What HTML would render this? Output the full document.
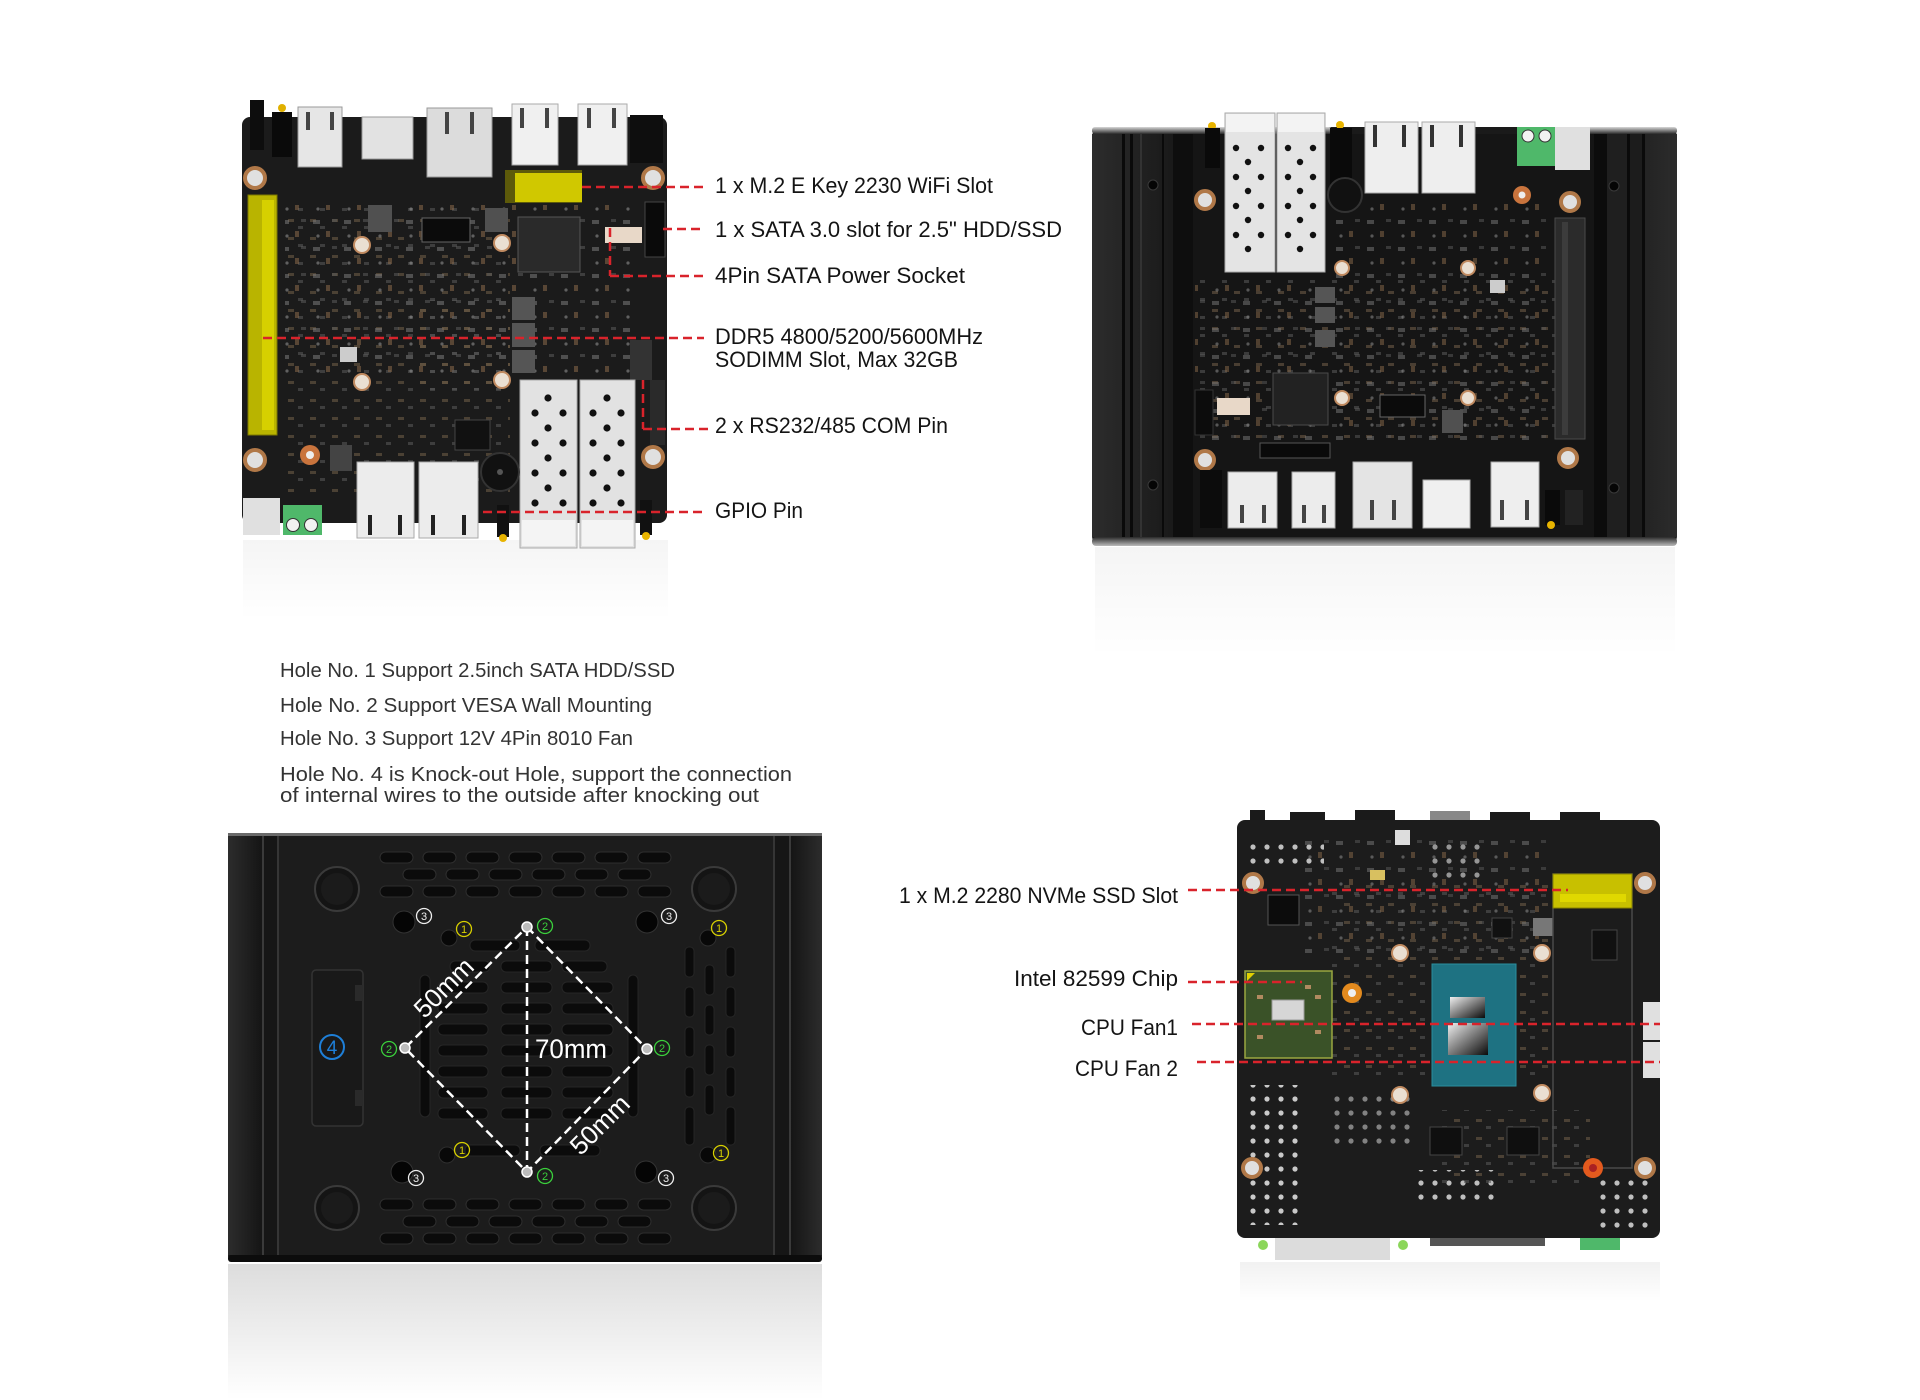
<!DOCTYPE html>
<html><head><meta charset="utf-8"><style>
html,body{margin:0;padding:0;background:#fff;}
body{width:1920px;height:1400px;overflow:hidden;}
svg{display:block;}
text{font-family:"Liberation Sans",sans-serif;}
</style></head><body>
<svg width="1920" height="1400" viewBox="0 0 1920 1400" xmlns="http://www.w3.org/2000/svg">
<defs>
<linearGradient id="refl" x1="0" y1="0" x2="0" y2="1"><stop offset="0" stop-color="#000" stop-opacity="0.18"/><stop offset="1" stop-color="#000" stop-opacity="0"/></linearGradient>
<linearGradient id="die" x1="0" y1="0" x2="1" y2="1"><stop offset="0" stop-color="#f0f0f0"/><stop offset="0.45" stop-color="#888"/><stop offset="1" stop-color="#0a0a0a"/></linearGradient>
<linearGradient id="bevel" x1="0" y1="0" x2="0" y2="1"><stop offset="0" stop-color="#d8d8d8"/><stop offset="1" stop-color="#2a2a2a"/></linearGradient>
<linearGradient id="bevelB" x1="0" y1="0" x2="0" y2="1"><stop offset="0" stop-color="#2a2a2a"/><stop offset="1" stop-color="#bbbbbb"/></linearGradient>
<linearGradient id="sideL" x1="0" y1="0" x2="1" y2="0"><stop offset="0" stop-color="#2c2c2c"/><stop offset="1" stop-color="#151515"/></linearGradient>
<linearGradient id="sideR" x1="0" y1="0" x2="1" y2="0"><stop offset="0" stop-color="#151515"/><stop offset="1" stop-color="#2c2c2c"/></linearGradient>
<pattern id="dA" patternUnits="userSpaceOnUse" x="520" y="392" width="57" height="30"><circle cx="28" cy="6" r="3.6" fill="#111"/><circle cx="15" cy="21" r="3.6" fill="#111"/><circle cx="43" cy="21" r="3.6" fill="#111"/></pattern>
<pattern id="dB" patternUnits="userSpaceOnUse" x="580" y="392" width="55" height="30"><circle cx="27" cy="6" r="3.6" fill="#111"/><circle cx="13" cy="21" r="3.6" fill="#111"/><circle cx="41" cy="21" r="3.6" fill="#111"/></pattern>
<pattern id="dC" patternUnits="userSpaceOnUse" x="1225" y="141" width="50" height="29"><circle cx="11" cy="7" r="3.2" fill="#111"/><circle cx="36" cy="7" r="3.2" fill="#111"/><circle cx="23" cy="21" r="3.2" fill="#111"/></pattern>
<pattern id="dD" patternUnits="userSpaceOnUse" x="1277" y="141" width="48" height="29"><circle cx="11" cy="7" r="3.2" fill="#111"/><circle cx="36" cy="7" r="3.2" fill="#111"/><circle cx="23" cy="21" r="3.2" fill="#111"/></pattern>
<pattern id="wd" patternUnits="userSpaceOnUse" x="0" y="0" width="14" height="14"><circle cx="7" cy="7" r="2.6" fill="#e8e8e8"/></pattern>
<pattern id="comp" patternUnits="userSpaceOnUse" x="0" y="0" width="22" height="18"><rect x="2" y="3" width="6" height="3" fill="#6b5a45"/><rect x="12" y="10" width="5" height="3" fill="#555"/></pattern>
<pattern id="comp2" patternUnits="userSpaceOnUse" x="0" y="0" width="31" height="27"><rect x="3" y="4" width="7" height="4" fill="#7a7a7a"/><rect x="16" y="15" width="4" height="6" fill="#8a6a4a"/><rect x="22" y="3" width="5" height="3" fill="#5a5a5a"/><circle cx="8" cy="20" r="1.6" fill="#999"/></pattern>
</defs>

<rect width="1920" height="1400" fill="#fff"/>

<!-- ================= TOP-LEFT BOARD ================= -->
<rect x="243" y="540" width="425" height="80" fill="url(#refl)" opacity="0.22"/>
<rect x="242" y="117" width="425" height="406" rx="8" fill="#1b1b1b"/>
<rect x="285" y="205" width="225" height="290" fill="url(#comp)" opacity="0.6"/>
<rect x="285" y="205" width="350" height="170" fill="url(#comp2)" opacity="0.55"/>
<rect x="420" y="300" width="90" height="90" fill="url(#comp)" opacity="0.6"/>
<!-- top ports -->
<rect x="250" y="100" width="14" height="50" fill="#0d0d0d"/>
<circle cx="282" cy="108" r="4" fill="#e0b000"/>
<rect x="272" y="112" width="20" height="45" fill="#0a0a0a"/>
<rect x="298" y="107" width="44" height="60" fill="#e6e6e6" stroke="#999"/>
<rect x="362" y="117" width="51" height="42" fill="#e2e2e2" stroke="#999"/>
<rect x="427" y="108" width="65" height="69" fill="#dcdcdc" stroke="#999"/>
<rect x="512" y="104" width="46" height="61" fill="#f0f0f0" stroke="#aaa"/>
<rect x="578" y="104" width="49" height="61" fill="#f0f0f0" stroke="#aaa"/>
<g fill="#444"><rect x="306" y="112" width="4" height="18"/><rect x="330" y="112" width="4" height="18"/><rect x="445" y="112" width="4" height="22"/><rect x="470" y="112" width="4" height="22"/><rect x="520" y="108" width="4" height="20"/><rect x="545" y="108" width="4" height="20"/><rect x="587" y="108" width="4" height="20"/><rect x="612" y="108" width="4" height="20"/></g>
<rect x="630" y="115" width="33" height="48" fill="#0e0e0e"/>
<!-- yellow slots -->
<rect x="248" y="195" width="29" height="240" fill="#b9b400" stroke="#7d7900"/>
<rect x="262" y="200" width="12" height="230" fill="#d6d000"/>
<rect x="505" y="170" width="77" height="33" fill="#8a8600" opacity="0.6"/>
<rect x="515" y="173" width="67" height="29" fill="#d0c800"/>
<!-- chips -->
<rect x="518" y="217" width="62" height="55" fill="#2a2a2a" stroke="#555"/>
<rect x="422" y="218" width="48" height="24" fill="#0b0b0b" stroke="#666"/>
<rect x="368" y="205" width="24" height="27" fill="#505050"/>
<rect x="485" y="208" width="23" height="24" fill="#505050"/>
<rect x="512" y="297" width="23" height="23" fill="#555"/>
<rect x="512" y="323" width="23" height="24" fill="#555"/>
<rect x="512" y="350" width="23" height="23" fill="#555"/>
<rect x="645" y="202" width="20" height="55" fill="#0a0a0a" stroke="#444"/>
<rect x="605" y="227" width="37" height="16" fill="#e8d8c8"/>
<rect x="340" y="347" width="17" height="15" fill="#ccc"/>
<rect x="630" y="340" width="22" height="40" fill="#333"/>
<rect x="650" y="380" width="15" height="65" fill="#2a2a2a"/>
<rect x="455" y="420" width="35" height="30" fill="#111" stroke="#444"/>
<!-- holes -->
<g fill="#e0e0e0" stroke="#b07848" stroke-width="4">
<circle cx="255" cy="178" r="10"/><circle cx="653" cy="178" r="10"/><circle cx="255" cy="460" r="10"/><circle cx="653" cy="457" r="10"/>
</g>
<g fill="#eadfd2" stroke="#c08a60" stroke-width="2">
<circle cx="362" cy="245" r="8"/><circle cx="502" cy="243" r="8"/><circle cx="362" cy="382" r="8"/><circle cx="502" cy="380" r="8"/>
</g>
<circle cx="310" cy="455" r="10" fill="#c9743d"/><circle cx="310" cy="455" r="4" fill="#eee"/>
<rect x="330" y="445" width="22" height="26" fill="#444"/>
<!-- bottom ports -->
<rect x="357" y="462" width="57" height="76" fill="#ececec" stroke="#aaa"/>
<rect x="419" y="462" width="59" height="76" fill="#ececec" stroke="#aaa"/>
<g fill="#222"><rect x="368" y="515" width="4" height="20"/><rect x="398" y="515" width="4" height="20"/><rect x="431" y="515" width="4" height="20"/><rect x="462" y="515" width="4" height="20"/></g>
<rect x="520" y="380" width="57" height="168" fill="#e2e2e2" stroke="#aaa"/>
<rect x="580" y="380" width="55" height="168" fill="#e2e2e2" stroke="#aaa"/>
<rect x="520" y="392" width="57" height="122" fill="url(#dA)"/>
<rect x="580" y="392" width="55" height="122" fill="url(#dB)"/>
<rect x="522" y="520" width="53" height="26" fill="#f4f4f4"/>
<rect x="582" y="520" width="51" height="26" fill="#f4f4f4"/>
<circle cx="500" cy="472" r="19" fill="#111" stroke="#333" stroke-width="2"/>
<circle cx="500" cy="472" r="3" fill="#555"/>
<rect x="243" y="498" width="37" height="37" fill="#e0e0e0"/>
<rect x="283" y="505" width="39" height="30" fill="#4fb86a"/>
<circle cx="293" cy="525" r="6.5" fill="#f2f2f2" stroke="#333"/><circle cx="311" cy="525" r="6.5" fill="#f2f2f2" stroke="#333"/>
<rect x="497" y="505" width="12" height="32" fill="#111"/>
<circle cx="503" cy="538" r="4" fill="#e8b400"/>
<rect x="640" y="500" width="12" height="35" fill="#111"/>
<circle cx="646" cy="536" r="4" fill="#e8b400"/>

<!-- TL red dashed connectors -->
<g stroke="#d9232b" stroke-width="2.5" stroke-dasharray="9 5" fill="none">
<line x1="582" y1="187" x2="704" y2="187"/>
<line x1="663" y1="229" x2="704" y2="229"/>
<line x1="610" y1="228" x2="610" y2="276"/>
<line x1="610" y1="276" x2="704" y2="276"/>
<line x1="263" y1="338" x2="704" y2="338"/>
<line x1="643" y1="380" x2="643" y2="429"/>
<line x1="643" y1="429" x2="710" y2="429"/>
<line x1="483" y1="512" x2="704" y2="512"/>
</g>
<g fill="#141414" font-size="22">
<text x="715" y="193" textLength="278" lengthAdjust="spacingAndGlyphs">1 x M.2 E Key 2230 WiFi Slot</text>
<text x="715" y="237" textLength="347" lengthAdjust="spacingAndGlyphs">1 x SATA 3.0 slot for 2.5" HDD/SSD</text>
<text x="715" y="283" textLength="250" lengthAdjust="spacingAndGlyphs">4Pin SATA Power Socket</text>
<text x="715" y="344" textLength="268" lengthAdjust="spacingAndGlyphs">DDR5 4800/5200/5600MHz</text>
<text x="715" y="367" textLength="243" lengthAdjust="spacingAndGlyphs">SODIMM Slot, Max 32GB</text>
<text x="715" y="433" textLength="233" lengthAdjust="spacingAndGlyphs">2 x RS232/485 COM Pin</text>
<text x="715" y="518" textLength="88" lengthAdjust="spacingAndGlyphs">GPIO Pin</text>
</g>

<!-- ================= TOP-RIGHT CASE ================= -->
<rect x="1095" y="547" width="580" height="110" fill="url(#refl)" opacity="0.22"/>
<rect x="1092" y="127" width="585" height="419" rx="10" fill="#1a1a1a"/>
<rect x="1092" y="127" width="240" height="7" rx="3" fill="url(#bevel)"/>
<rect x="1540" y="127" width="137" height="7" rx="3" fill="url(#bevel)"/>
<rect x="1092" y="537" width="585" height="9" rx="4" fill="url(#bevelB)"/>
<rect x="1092" y="134" width="101" height="403" fill="url(#sideL)"/>
<rect x="1122" y="134" width="3" height="403" fill="#0a0a0a"/>
<rect x="1130" y="134" width="3" height="403" fill="#0a0a0a"/>
<rect x="1140" y="134" width="2" height="403" fill="#333"/>
<rect x="1162" y="134" width="2" height="403" fill="#0a0a0a"/>
<rect x="1173" y="134" width="20" height="403" fill="#0e0e0e"/>
<rect x="1594" y="134" width="83" height="403" fill="url(#sideR)"/>
<rect x="1594" y="134" width="13" height="403" fill="#0c0c0c"/>
<rect x="1607" y="134" width="20" height="403" fill="#1f1f1f"/>
<rect x="1627" y="134" width="3" height="403" fill="#0a0a0a"/>
<rect x="1630" y="134" width="12" height="403" fill="#1c1c1c"/>
<rect x="1642" y="134" width="3" height="403" fill="#0a0a0a"/>
<g fill="#050505" stroke="#3a3a3a"><circle cx="1153" cy="185" r="5"/><circle cx="1153" cy="485" r="5"/><circle cx="1614" cy="186" r="5"/><circle cx="1614" cy="488" r="5"/></g>
<rect x="1193" y="134" width="401" height="403" fill="#151515"/>
<rect x="1200" y="280" width="380" height="160" fill="url(#comp)" opacity="0.6"/>
<rect x="1330" y="200" width="220" height="240" fill="url(#comp2)" opacity="0.5"/>
<rect x="1195" y="280" width="120" height="160" fill="url(#comp2)" opacity="0.5"/>
<!-- top ports -->
<circle cx="1212" cy="126" r="4" fill="#e8b400"/>
<circle cx="1340" cy="125" r="4" fill="#e8b400"/>
<rect x="1205" y="128" width="15" height="40" fill="#0a0a0a"/>
<rect x="1330" y="128" width="22" height="60" fill="#0a0a0a"/>
<rect x="1225" y="113" width="50" height="159" fill="#e4e4e4" stroke="#aaa"/>
<rect x="1277" y="113" width="48" height="159" fill="#e4e4e4" stroke="#aaa"/>
<rect x="1226" y="114" width="48" height="18" fill="#f3f3f3"/>
<rect x="1278" y="114" width="46" height="18" fill="#f3f3f3"/>
<rect x="1225" y="141" width="50" height="116" fill="url(#dC)"/>
<rect x="1277" y="141" width="48" height="116" fill="url(#dD)"/>
<rect x="1365" y="122" width="53" height="71" fill="#eeeeee" stroke="#aaa"/>
<rect x="1422" y="122" width="53" height="71" fill="#eeeeee" stroke="#aaa"/>
<g fill="#333"><rect x="1373" y="125" width="4" height="22"/><rect x="1402" y="125" width="4" height="22"/><rect x="1430" y="125" width="4" height="22"/><rect x="1459" y="125" width="4" height="22"/></g>
<circle cx="1345" cy="195" r="17" fill="#111" stroke="#333" stroke-width="2"/>
<rect x="1517" y="127" width="38" height="39" fill="#4fb86a"/>
<circle cx="1528" cy="136" r="6" fill="#f2f2f2" stroke="#333"/><circle cx="1545" cy="136" r="6" fill="#f2f2f2" stroke="#333"/>
<rect x="1555" y="127" width="35" height="43" fill="#e0e0e0"/>
<!-- sodimm -->
<rect x="1555" y="218" width="30" height="221" fill="#2b2b2b" stroke="#4a4a4a"/>
<rect x="1562" y="222" width="6" height="213" fill="#3c3c3c"/>
<!-- chips -->
<rect x="1273" y="373" width="55" height="52" fill="#222" stroke="#4a4a4a"/>
<rect x="1315" y="287" width="20" height="16" fill="#555"/>
<rect x="1315" y="307" width="20" height="16" fill="#555"/>
<rect x="1315" y="330" width="20" height="17" fill="#555"/>
<rect x="1442" y="410" width="21" height="23" fill="#505050"/>
<rect x="1380" y="395" width="45" height="22" fill="#0b0b0b" stroke="#666"/>
<rect x="1217" y="398" width="33" height="17" fill="#e8d8c8"/>
<rect x="1260" y="443" width="70" height="15" fill="#0a0a0a" stroke="#555"/>
<rect x="1195" y="390" width="18" height="45" fill="#0c0c0c" stroke="#333"/>
<rect x="1490" y="280" width="15" height="13" fill="#ccc"/>
<g fill="#e0e0e0" stroke="#b07848" stroke-width="4"><circle cx="1205" cy="200" r="9"/><circle cx="1205" cy="460" r="9"/><circle cx="1570" cy="202" r="9"/><circle cx="1568" cy="458" r="9"/></g>
<g fill="#eadfd2" stroke="#c08a60" stroke-width="2"><circle cx="1342" cy="268" r="7"/><circle cx="1468" cy="268" r="7"/><circle cx="1342" cy="398" r="7"/><circle cx="1468" cy="398" r="7"/></g>
<circle cx="1522" cy="195" r="9" fill="#c9743d"/><circle cx="1522" cy="195" r="3.5" fill="#eee"/>
<!-- bottom ports -->
<rect x="1200" y="470" width="22" height="58" fill="#0c0c0c"/>
<rect x="1228" y="472" width="49" height="56" fill="#ececec" stroke="#aaa"/>
<rect x="1292" y="472" width="43" height="56" fill="#ececec" stroke="#aaa"/>
<rect x="1353" y="462" width="59" height="66" fill="#e4e4e4" stroke="#aaa"/>
<rect x="1423" y="480" width="47" height="48" fill="#f0f0f0" stroke="#aaa"/>
<rect x="1491" y="462" width="48" height="65" fill="#eeeeee" stroke="#aaa"/>
<g fill="#444"><rect x="1240" y="505" width="4" height="18"/><rect x="1262" y="505" width="4" height="18"/><rect x="1302" y="505" width="4" height="18"/><rect x="1322" y="505" width="4" height="18"/><rect x="1370" y="500" width="4" height="20"/><rect x="1392" y="500" width="4" height="20"/><rect x="1500" y="500" width="4" height="20"/><rect x="1525" y="500" width="4" height="20"/></g>
<rect x="1545" y="490" width="15" height="35" fill="#0a0a0a"/>
<rect x="1565" y="490" width="18" height="35" fill="#222"/>
<circle cx="1551" cy="525" r="4" fill="#e8b400"/>

<!-- ================= HOLE TEXT ================= -->
<g fill="#333" font-size="20">
<text x="280" y="677" textLength="395" lengthAdjust="spacingAndGlyphs">Hole No. 1 Support 2.5inch SATA HDD/SSD</text>
<text x="280" y="712" textLength="372" lengthAdjust="spacingAndGlyphs">Hole No. 2 Support VESA Wall Mounting</text>
<text x="280" y="745" textLength="353" lengthAdjust="spacingAndGlyphs">Hole No. 3 Support 12V 4Pin 8010 Fan</text>
<text x="280" y="781" textLength="512" lengthAdjust="spacingAndGlyphs">Hole No. 4 is Knock-out Hole, support the connection</text>
<text x="280" y="802" textLength="479" lengthAdjust="spacingAndGlyphs">of internal wires to the outside after knocking out</text>
</g>

<!-- ================= BOTTOM-LEFT CASE ================= -->
<rect x="228" y="1264" width="594" height="136" fill="url(#refl)" opacity="0.75"/>
<rect x="228" y="833" width="594" height="429" rx="6" fill="#1c1c1c"/>
<rect x="228" y="833" width="594" height="3" fill="#6a6a6a"/>
<rect x="228" y="1255" width="594" height="7" rx="3" fill="#0c0c0c"/>
<rect x="228" y="836" width="34" height="419" fill="url(#sideL)"/>
<rect x="262" y="836" width="2" height="419" fill="#3a3a3a"/>
<rect x="264" y="836" width="13" height="419" fill="#161616"/>
<rect x="277" y="836" width="2" height="419" fill="#353535"/>
<rect x="773" y="836" width="2" height="419" fill="#353535"/>
<rect x="775" y="836" width="14" height="419" fill="#161616"/>
<rect x="789" y="836" width="2" height="419" fill="#3a3a3a"/>
<rect x="791" y="836" width="31" height="419" fill="url(#sideR)"/>
<!-- vents top/bottom -->
<g fill="#0b0b0b" stroke="#2e2e2e" stroke-width="1">
<rect x="380" y="852" width="33" height="11" rx="5.5"/><rect x="423" y="852" width="33" height="11" rx="5.5"/><rect x="466" y="852" width="33" height="11" rx="5.5"/><rect x="509" y="852" width="33" height="11" rx="5.5"/><rect x="552" y="852" width="33" height="11" rx="5.5"/><rect x="595" y="852" width="33" height="11" rx="5.5"/><rect x="638" y="852" width="33" height="11" rx="5.5"/>
<rect x="403" y="869" width="33" height="11" rx="5.5"/><rect x="446" y="869" width="33" height="11" rx="5.5"/><rect x="489" y="869" width="33" height="11" rx="5.5"/><rect x="532" y="869" width="33" height="11" rx="5.5"/><rect x="575" y="869" width="33" height="11" rx="5.5"/><rect x="618" y="869" width="33" height="11" rx="5.5"/>
<rect x="380" y="886" width="33" height="11" rx="5.5"/><rect x="423" y="886" width="33" height="11" rx="5.5"/><rect x="466" y="886" width="33" height="11" rx="5.5"/><rect x="509" y="886" width="33" height="11" rx="5.5"/><rect x="552" y="886" width="33" height="11" rx="5.5"/><rect x="595" y="886" width="33" height="11" rx="5.5"/><rect x="638" y="886" width="33" height="11" rx="5.5"/>
<rect x="380" y="1199" width="33" height="11" rx="5.5"/><rect x="423" y="1199" width="33" height="11" rx="5.5"/><rect x="466" y="1199" width="33" height="11" rx="5.5"/><rect x="509" y="1199" width="33" height="11" rx="5.5"/><rect x="552" y="1199" width="33" height="11" rx="5.5"/><rect x="595" y="1199" width="33" height="11" rx="5.5"/><rect x="638" y="1199" width="33" height="11" rx="5.5"/>
<rect x="403" y="1216" width="33" height="11" rx="5.5"/><rect x="446" y="1216" width="33" height="11" rx="5.5"/><rect x="489" y="1216" width="33" height="11" rx="5.5"/><rect x="532" y="1216" width="33" height="11" rx="5.5"/><rect x="575" y="1216" width="33" height="11" rx="5.5"/><rect x="618" y="1216" width="33" height="11" rx="5.5"/>
<rect x="380" y="1233" width="33" height="11" rx="5.5"/><rect x="423" y="1233" width="33" height="11" rx="5.5"/><rect x="466" y="1233" width="33" height="11" rx="5.5"/><rect x="509" y="1233" width="33" height="11" rx="5.5"/><rect x="552" y="1233" width="33" height="11" rx="5.5"/><rect x="595" y="1233" width="33" height="11" rx="5.5"/><rect x="638" y="1233" width="33" height="11" rx="5.5"/>
</g>
<!-- fan grille -->
<g fill="#0b0b0b" stroke="#262626" stroke-width="1">
<rect x="470" y="940" width="50" height="11" rx="5"/><rect x="535" y="940" width="55" height="11" rx="5"/>
<rect x="450" y="961" width="40" height="11" rx="5"/><rect x="501" y="961" width="51" height="11" rx="5"/><rect x="562" y="961" width="45" height="11" rx="5"/>
<rect x="438" y="982" width="50" height="11" rx="5"/><rect x="501" y="982" width="51" height="11" rx="5"/><rect x="562" y="982" width="51" height="11" rx="5"/>
<rect x="438" y="1003" width="50" height="11" rx="5"/><rect x="501" y="1003" width="51" height="11" rx="5"/><rect x="562" y="1003" width="51" height="11" rx="5"/>
<rect x="438" y="1024" width="50" height="11" rx="5"/><rect x="501" y="1024" width="51" height="11" rx="5"/><rect x="562" y="1024" width="51" height="11" rx="5"/>
<rect x="438" y="1045" width="50" height="11" rx="5"/><rect x="501" y="1045" width="51" height="11" rx="5"/><rect x="562" y="1045" width="51" height="11" rx="5"/>
<rect x="438" y="1066" width="50" height="11" rx="5"/><rect x="501" y="1066" width="51" height="11" rx="5"/><rect x="562" y="1066" width="51" height="11" rx="5"/>
<rect x="438" y="1087" width="50" height="11" rx="5"/><rect x="501" y="1087" width="51" height="11" rx="5"/><rect x="562" y="1087" width="51" height="11" rx="5"/>
<rect x="438" y="1108" width="50" height="11" rx="5"/><rect x="501" y="1108" width="51" height="11" rx="5"/><rect x="562" y="1108" width="51" height="11" rx="5"/>
<rect x="465" y="1145" width="55" height="11" rx="5"/><rect x="540" y="1145" width="60" height="11" rx="5"/>
<rect x="420" y="975" width="10" height="142" rx="5"/><rect x="628" y="975" width="10" height="142" rx="5"/>
<rect x="685" y="947" width="9" height="30" rx="4"/><rect x="685" y="987" width="9" height="30" rx="4"/><rect x="685" y="1027" width="9" height="30" rx="4"/><rect x="685" y="1067" width="9" height="30" rx="4"/><rect x="685" y="1107" width="9" height="38" rx="4"/>
<rect x="705" y="965" width="9" height="30" rx="4"/><rect x="705" y="1005" width="9" height="30" rx="4"/><rect x="705" y="1045" width="9" height="30" rx="4"/><rect x="705" y="1085" width="9" height="30" rx="4"/>
<rect x="726" y="947" width="9" height="30" rx="4"/><rect x="726" y="987" width="9" height="30" rx="4"/><rect x="726" y="1027" width="9" height="30" rx="4"/><rect x="726" y="1067" width="9" height="30" rx="4"/><rect x="726" y="1107" width="9" height="38" rx="4"/>
</g>
<!-- feet -->
<g fill="#141414" stroke="#3a3a3a" stroke-width="2">
<circle cx="337" cy="889" r="22"/><circle cx="714" cy="889" r="22"/><circle cx="337" cy="1208" r="22"/><circle cx="714" cy="1208" r="22"/>
</g>
<g fill="#1b1b1b"><circle cx="337" cy="889" r="16"/><circle cx="714" cy="889" r="16"/><circle cx="337" cy="1208" r="16"/><circle cx="714" cy="1208" r="16"/></g>
<!-- knock-out panel -->
<rect x="312" y="970" width="51" height="156" rx="4" fill="#191919" stroke="#333" stroke-width="1.5"/>
<rect x="355" y="985" width="8" height="16" fill="#2a2a2a"/><rect x="355" y="1090" width="8" height="16" fill="#2a2a2a"/>
<circle cx="332" cy="1047" r="12" fill="none" stroke="#1e7fd8" stroke-width="2"/>
<text x="332" y="1054" font-size="19" fill="#1e7fd8" text-anchor="middle">4</text>
<!-- holes -->
<g fill="#050505" stroke="#333"><circle cx="404" cy="922" r="11"/><circle cx="647" cy="922" r="11"/><circle cx="402" cy="1172" r="11"/><circle cx="646" cy="1172" r="11"/></g>
<g fill="#080808" stroke="#2e2e2e"><circle cx="449" cy="938" r="8"/><circle cx="708" cy="938" r="8"/><circle cx="447" cy="1155" r="8"/><circle cx="708" cy="1155" r="8"/></g>
<!-- diamond -->
<g stroke="#fff" stroke-width="2.5" stroke-dasharray="9 5" fill="none">
<polygon points="527,927 647,1049 527,1172 405,1048"/>
<line x1="527" y1="927" x2="527" y2="1172"/>
</g>
<g fill="#bbb" stroke="#fff" stroke-width="1.5"><circle cx="527" cy="927" r="5"/><circle cx="647" cy="1049" r="5"/><circle cx="527" cy="1172" r="5"/><circle cx="405" cy="1048" r="5"/></g>
<text x="535" y="1058" font-size="27" fill="#fff" textLength="72" lengthAdjust="spacingAndGlyphs">70mm</text>
<text x="0" y="0" font-size="26" fill="#fff" text-anchor="middle" transform="translate(450,994) rotate(-45)">50mm</text>
<text x="0" y="0" font-size="26" fill="#fff" text-anchor="middle" transform="translate(606,1131) rotate(-45)">50mm</text>
<!-- circled labels -->
<g fill="none" stroke-width="1.3">
<g stroke="#d8d000"><circle cx="464" cy="929" r="7.5"/><circle cx="719" cy="928" r="7.5"/><circle cx="462" cy="1150" r="7.5"/><circle cx="721" cy="1153" r="7.5"/></g>
<g stroke="#3bd03c"><circle cx="545" cy="926" r="7.5"/><circle cx="389" cy="1049" r="7.5"/><circle cx="662" cy="1048" r="7.5"/><circle cx="545" cy="1176" r="7.5"/></g>
<g stroke="#eee"><circle cx="424" cy="916" r="7.5"/><circle cx="669" cy="916" r="7.5"/><circle cx="416" cy="1178" r="7.5"/><circle cx="666" cy="1178" r="7.5"/></g>
</g>
<g font-size="11" text-anchor="middle">
<g fill="#d8d000"><text x="464" y="933">1</text><text x="719" y="932">1</text><text x="462" y="1154">1</text><text x="721" y="1157">1</text></g>
<g fill="#3bd03c"><text x="545" y="930">2</text><text x="389" y="1053">2</text><text x="662" y="1052">2</text><text x="545" y="1180">2</text></g>
<g fill="#eee"><text x="424" y="920">3</text><text x="669" y="920">3</text><text x="416" y="1182">3</text><text x="666" y="1182">3</text></g>
</g>

<!-- ================= BOTTOM-RIGHT BOARD ================= -->
<rect x="1240" y="1262" width="420" height="40" fill="url(#refl)" opacity="0.3"/>
<g fill="#1a1a1a"><rect x="1250" y="810" width="15" height="14"/><rect x="1290" y="812" width="35" height="10"/><rect x="1355" y="810" width="40" height="12"/><rect x="1490" y="812" width="40" height="10"/><rect x="1560" y="812" width="40" height="10"/></g>
<rect x="1430" y="811" width="40" height="11" fill="#888"/>
<rect x="1237" y="820" width="423" height="418" rx="8" fill="#1c1c1c"/>
<rect x="1275" y="1238" width="115" height="22" fill="#dcdcdc"/>
<rect x="1430" y="1238" width="115" height="8" fill="#555"/>
<rect x="1580" y="1238" width="40" height="12" fill="#4fb86a"/>
<circle cx="1263" cy="1245" r="5" fill="#8bd65a"/><circle cx="1403" cy="1245" r="5" fill="#8bd65a"/>
<!-- white dots regions -->
<rect x="1244" y="1085" width="56" height="140" fill="url(#wd)" opacity="0.85"/>
<rect x="1244" y="840" width="80" height="30" fill="url(#wd)" opacity="0.8"/>
<rect x="1410" y="1170" width="90" height="30" fill="url(#wd)" opacity="0.8"/>
<rect x="1600" y="1180" width="50" height="50" fill="url(#wd)" opacity="0.8"/>
<rect x="1330" y="1090" width="80" height="60" fill="url(#wd)" opacity="0.5"/>
<rect x="1330" y="880" width="220" height="200" fill="url(#comp)" opacity="0.6"/>
<rect x="1300" y="840" width="250" height="120" fill="url(#comp2)" opacity="0.5"/>
<rect x="1440" y="1110" width="150" height="80" fill="url(#comp)" opacity="0.6"/>
<rect x="1430" y="840" width="50" height="40" fill="url(#wd)" opacity="0.6"/>
<!-- chips -->
<rect x="1268" y="895" width="31" height="30" fill="#0c0c0c" stroke="#555"/>
<rect x="1430" y="1127" width="32" height="28" fill="#0f0f0f" stroke="#444"/>
<rect x="1507" y="1127" width="32" height="28" fill="#0f0f0f" stroke="#444"/>
<rect x="1492" y="918" width="20" height="20" fill="#111" stroke="#444"/>
<rect x="1533" y="918" width="20" height="18" fill="#777"/>
<rect x="1592" y="930" width="25" height="30" fill="#111" stroke="#444"/>
<rect x="1395" y="830" width="15" height="15" fill="#ddd"/>
<rect x="1370" y="870" width="15" height="10" fill="#d8c060"/>
<rect x="1553" y="874" width="79" height="294" fill="none" stroke="#4a4a4a" stroke-width="1.5"/>
<rect x="1553" y="874" width="79" height="34" fill="#c8c000" stroke="#8a8500"/>
<rect x="1560" y="894" width="66" height="8" fill="#e0d800"/>
<rect x="1245" y="971" width="87" height="87" fill="#3a5228" stroke="#9aa640" stroke-width="1.5"/>
<polygon points="1247,973 1255,973 1247,981" fill="#e0d000"/>
<rect x="1272" y="1000" width="32" height="20" fill="#d6d6d6" stroke="#999"/>
<g fill="#b08a60"><rect x="1257" y="995" width="6" height="4"/><rect x="1315" y="995" width="6" height="4"/><rect x="1315" y="1030" width="6" height="4"/><rect x="1257" y="1035" width="6" height="4"/><rect x="1305" y="985" width="6" height="4"/></g>
<rect x="1432" y="964" width="84" height="122" fill="#1e7282" stroke="#2a8e9e"/>
<rect x="1450" y="997" width="35" height="21" fill="url(#die)"/>
<rect x="1448" y="1023" width="40" height="32" fill="url(#die)"/>
<g fill="#e0e0e0" stroke="#b07848" stroke-width="4"><circle cx="1253" cy="883" r="9"/><circle cx="1645" cy="883" r="9"/><circle cx="1252" cy="1168" r="9"/><circle cx="1645" cy="1168" r="9"/></g>
<g fill="#eadfd2" stroke="#c08a60" stroke-width="2"><circle cx="1400" cy="953" r="8"/><circle cx="1542" cy="953" r="8"/><circle cx="1400" cy="1095" r="8"/><circle cx="1542" cy="1093" r="8"/></g>
<circle cx="1352" cy="993" r="10" fill="#e38a1e"/><circle cx="1352" cy="993" r="4" fill="#eee"/>
<circle cx="1593" cy="1168" r="10" fill="#e35a1e"/><circle cx="1593" cy="1168" r="4" fill="#a22"/>
<rect x="1643" y="1002" width="17" height="38" fill="#e0e0e0"/>
<rect x="1643" y="1042" width="17" height="36" fill="#e0e0e0"/>
<!-- BR red dashed -->
<g stroke="#d9232b" stroke-width="2.5" stroke-dasharray="9 5" fill="none">
<line x1="1188" y1="890" x2="1568" y2="890"/>
<line x1="1188" y1="982" x2="1302" y2="982"/>
<line x1="1192" y1="1024" x2="1660" y2="1024"/>
<line x1="1197" y1="1062" x2="1660" y2="1062"/>
</g>
<g fill="#141414" font-size="22" text-anchor="end">
<text x="1178" y="903" textLength="279" lengthAdjust="spacingAndGlyphs">1 x M.2 2280 NVMe SSD Slot</text>
<text x="1178" y="986" textLength="164" lengthAdjust="spacingAndGlyphs">Intel 82599 Chip</text>
<text x="1178" y="1035" textLength="97" lengthAdjust="spacingAndGlyphs">CPU Fan1</text>
<text x="1178" y="1076" textLength="103" lengthAdjust="spacingAndGlyphs">CPU Fan 2</text>
</g>
</svg>
</body></html>
